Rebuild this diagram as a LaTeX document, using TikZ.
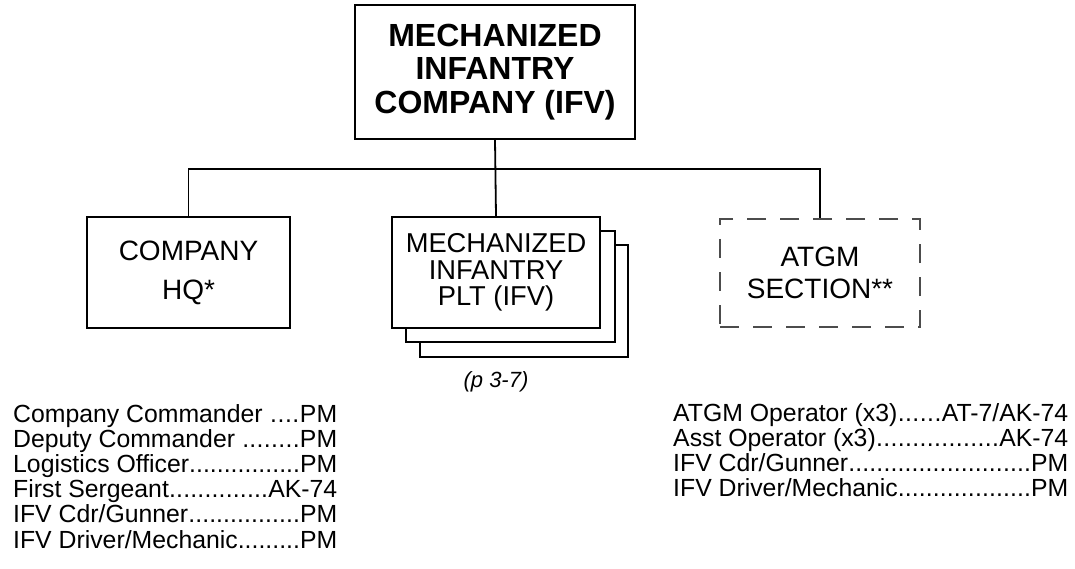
\documentclass[tikz,border=0pt]{standalone}
\usepackage{fontspec}
\setmainfont{Liberation Sans}
\usetikzlibrary{positioning}

\newcommand{\dotrow}[3]{\hbox to #1{#2\xleaders\hbox to .278em{\hss.\hss}\hfill #3}}

\begin{document}
\begin{tikzpicture}[x=1pt, y=-1pt,
		unitbox/.style={draw, line width=1.8pt, fill=white, align=center, inner sep=0pt},
		planbox/.style={draw=black!70, line width=1.3pt, dash pattern=on 19pt off 14pt, align=center, inner sep=0pt},
		boxfont/.style={font={\fontsize{27.3}{26.5}\selectfont}},
		listfont/.style={font={\fontsize{24.8}{25.2}\selectfont}, align=left, inner sep=0pt}]

		\useasboundingbox (0,0) rectangle (1075,569);

		% Top box
		\node[unitbox, minimum width=280, minimum height=134, font={\bfseries\fontsize{32}{33.5}\selectfont}]
			(company) at (495,72) {MECHANIZED\\INFANTRY\\COMPANY (IFV)};

		% Company HQ
		\node[unitbox, font={\fontsize{28}{39}\selectfont}, minimum width=203, minimum height=111]
			(hq) at (188.5,272.5) {COMPANY\\HQ*};

		% Platoons (stacked)
		\node[unitbox, minimum width=208, minimum height=112] (plt3) at (524,301) {};
		\node[unitbox, minimum width=209, minimum height=111] (plt2) at (510.5,286.5) {};
		\node[unitbox, boxfont, minimum width=208, minimum height=111]
			(plt) at (496,272.5) {MECHANIZED\\INFANTRY\\PLT (IFV)};
		\node[font={\itshape\fontsize{22}{24}\selectfont}] (pref) at (496,382) {(p 3-7)};

		% ATGM section (dashed)
		\node[planbox, font={\fontsize{28}{32}\selectfont}, minimum width=200, minimum height=108]
			(atgm) at (820,273) {ATGM\\SECTION**};

		% Lines
		\coordinate (bus) at (495,169);
		\draw[line width=1.8pt] (company.south) -- (plt.north);
		\draw[line width=1.8pt] (hq.north) |- (bus) -| (atgm.north);

		% Weapons lists
		\node[listfont, anchor=north west] (hqlist) at (13,404) {%
			\dotrow{324pt}{Company Commander }{PM}\\
			\dotrow{324pt}{Deputy Commander }{PM}\\
			\dotrow{324pt}{Logistics Officer}{PM}\\
			\dotrow{324pt}{First Sergeant}{AK-74}\\
			\dotrow{324pt}{IFV Cdr/Gunner}{PM}\\
			\dotrow{324pt}{IFV Driver/Mechanic}{PM}};
		\node[listfont, anchor=north west] (atgmlist) at (673,403) {%
			\dotrow{395pt}{ATGM Operator (x3)}{AT-7/AK-74}\\
			\dotrow{395pt}{Asst Operator (x3)}{AK-74}\\
			\dotrow{395pt}{IFV Cdr/Gunner}{PM}\\
			\dotrow{395pt}{IFV Driver/Mechanic}{PM}};

	\end{tikzpicture}
\end{document}
